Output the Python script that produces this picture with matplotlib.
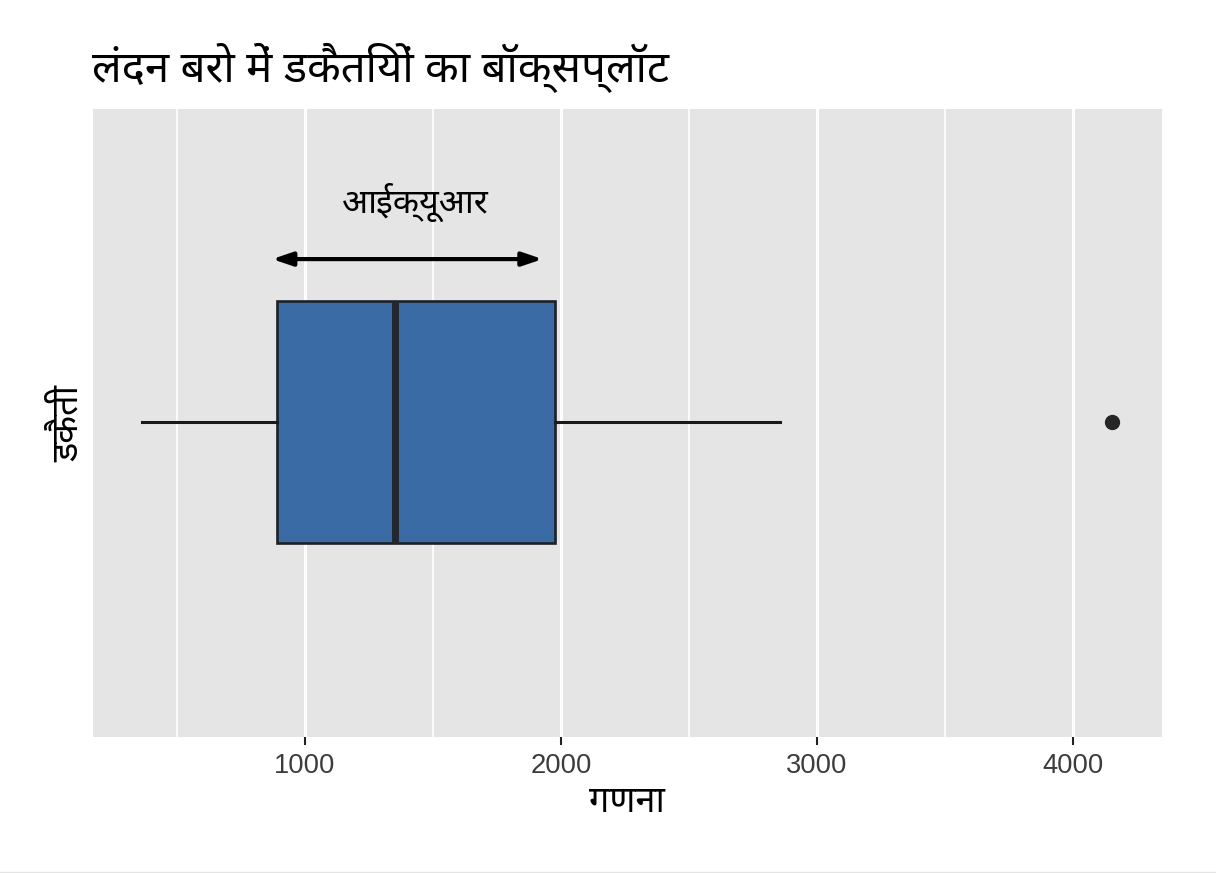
import matplotlib
matplotlib.use("Agg")
import matplotlib.pyplot as plt
from matplotlib.lines import Line2D

# box stats
whisker_low = 363
q1 = 890
median = 1352
q3 = 1977
whisker_high = 2855
outliers = [4152]
iqr_arrow = [872, 1928]

major_ticks = [1000, 2000, 3000, 4000]
minor_ticks = [500, 1500, 2500, 3500]

title = "लंदन बरो में डकैतियों का बॉक्सप्लॉट"
xlab = "गणना"
ylab = "डकैती"
iqr_label = "आईक्यूआर"

hindi = ["Noto Sans", "DejaVu Sans"]

fig = plt.figure(figsize=(12.16, 8.73), dpi=100, facecolor="w")
ax = fig.add_axes([93 / 1216, 1 - 737 / 873, (1162 - 93) / 1216, (737 - 109) / 873])
ax.set_facecolor("#e5e5e5")
for s in ax.spines.values():
    s.set_visible(False)

ax.set_xlim(172, 4348)
ax.set_ylim(-0.5, 0.5)
ax.set_yticks([])
ax.set_xticks(major_ticks)
ax.set_xticks(minor_ticks, minor=True)
ax.grid(axis="x", which="major", color="w", lw=2.2)
ax.grid(axis="x", which="minor", color="w", lw=1.2)
ax.set_axisbelow(True)
ax.tick_params(axis="x", which="minor", length=0)
ax.tick_params(axis="x", which="major", length=5.8, width=1.5, color="#222222", pad=6,
               labelsize=19.7, labelcolor="#3c3c3c")
for t in ax.get_xticklabels():
    t.set_family("Liberation Sans")

stats = [{"whislo": whisker_low, "q1": q1, "med": median, "q3": q3,
          "whishi": whisker_high, "fliers": outliers}]
ax.bxp(stats, positions=[0.0016], widths=[0.385], orientation="horizontal", patch_artist=True,
       showcaps=False, manage_ticks=False,
       boxprops=dict(facecolor="#3a6ba5", edgecolor="#1c2126", lw=1.9),
       medianprops=dict(color="#23272e", lw=5, solid_capstyle="butt"),
       whiskerprops=dict(color="#1a1a1a", lw=2.2),
       flierprops=dict(marker="o", markerfacecolor="#262626", markeredgecolor="#262626", markersize=10))

ax.annotate("", xy=(iqr_arrow[0], 0.261), xytext=(iqr_arrow[1], 0.261),
            arrowprops=dict(arrowstyle="<|-|>,head_length=0.5,head_width=0.17", color="k", lw=3,
                            mutation_scale=24, shrinkA=0, shrinkB=0))
ax.text(1432, 0.351, iqr_label, ha="center", va="center", fontsize=24.6, family=hindi)

fig.text(92 / 1216, 1 - 68 / 873, title, ha="left", va="center", fontsize=31.5, family=hindi)
fig.text(627 / 1216, 1 - 803 / 873, xlab, ha="center", va="center", fontsize=26, family=hindi, weight="bold")
fig.text(69 / 1216, 1 - 423 / 873, ylab, ha="center", va="center", rotation=90, fontsize=26, family=hindi, weight="bold")

# thin grey line along the bottom edge
fig.add_artist(Line2D([0, 1], [1 - 871.5 / 873] * 2, transform=fig.transFigure, color="#e4e4e4", lw=1))

fig.savefig("out.png", dpi=100, facecolor="w")
